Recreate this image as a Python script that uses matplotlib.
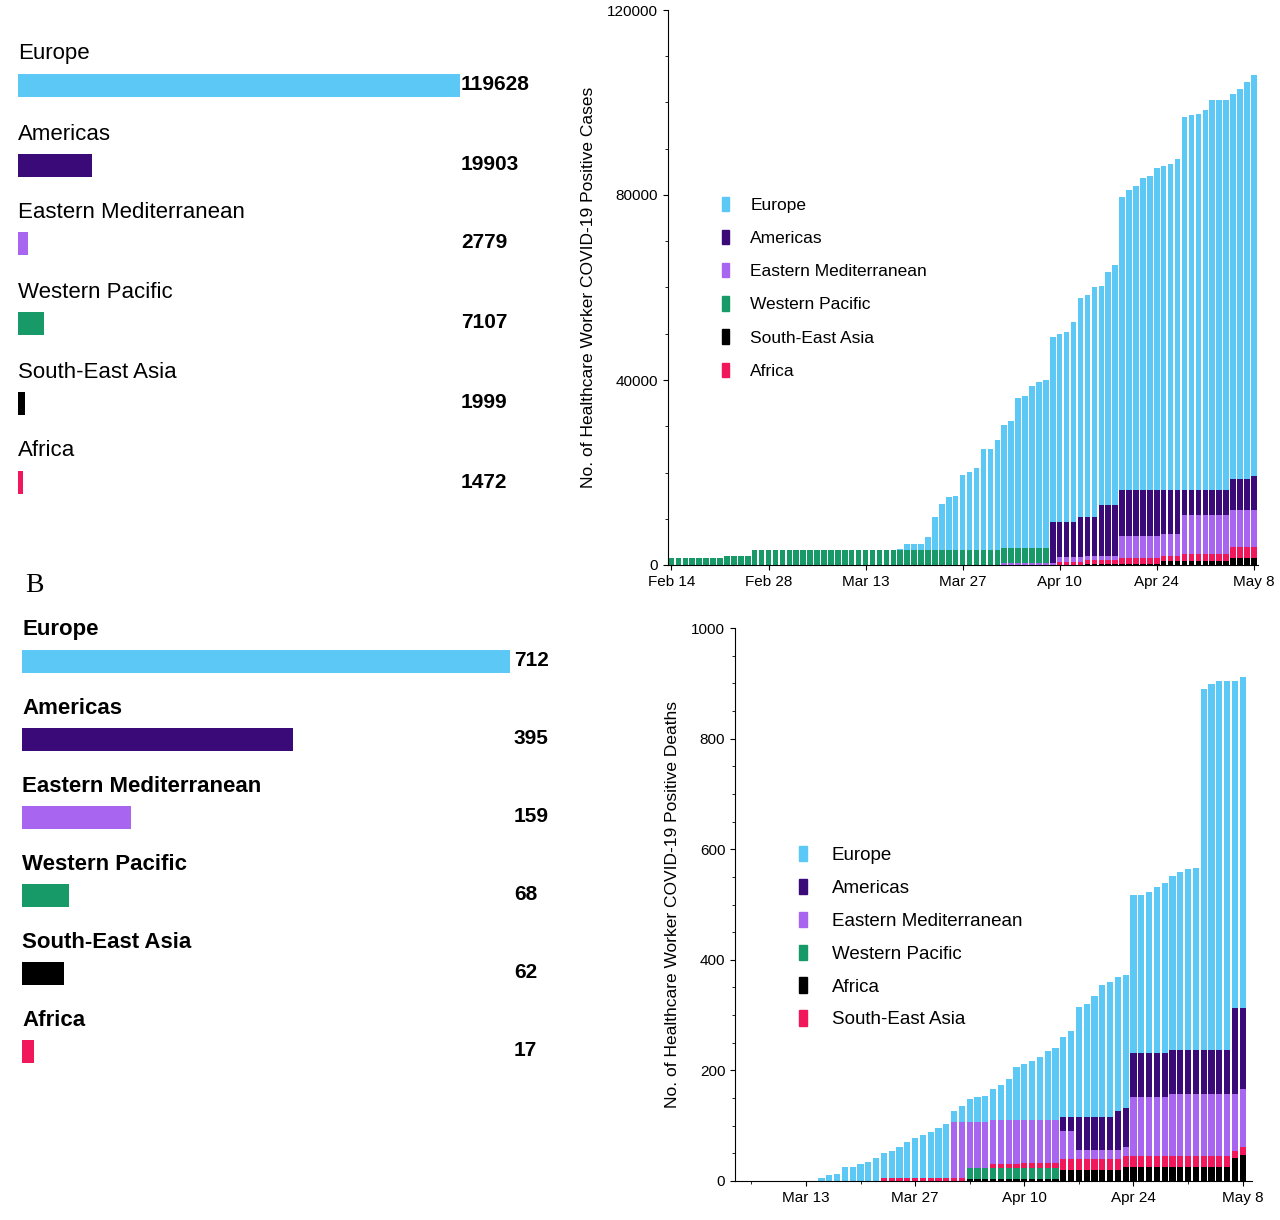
import matplotlib
matplotlib.use("Agg")
import matplotlib.pyplot as plt
import numpy as np
from matplotlib.patches import Patch

plt.rcParams['font.family'] = ['Liberation Sans', 'DejaVu Sans']

# ---------------- data ----------------
regions_a = ["Europe", "Americas", "Eastern Mediterranean", "Western Pacific", "South-East Asia", "Africa"]
cases_a = [119628, 19903, 2779, 7107, 1999, 1472]
regions_b = ["Europe", "Americas", "Eastern Mediterranean", "Western Pacific", "South-East Asia", "Africa"]
deaths_b = [712, 395, 159, 68, 62, 17]

C_EU, C_AM, C_EM, C_WP, C_BK, C_RD = "#5BC8F5", "#3A0B78", "#A866F0", "#179A68", "#000000", "#F0185A"

# top chart, daily cumulative, Feb 14 .. May 8 (85 days)
case_ticks = ["Feb 14", "Feb 28", "Mar 13", "Mar 27", "Apr 10", "Apr 24", "May 8"]
total_cases = ([1500]*8 + [1900]*4 + [3200]*21 + [3500] + [4500]*3 +
               [6000, 10400, 13100, 14600, 14900, 19400, 20100, 20900, 25000, 25000, 27000,
                30200, 31100, 36200, 36600, 38800, 39600, 39900, 49300, 50000, 50400, 52600,
                57800, 58400, 60100, 60400, 63400, 64900, 79500, 81100, 81900, 83600, 84100,
                85800, 86200, 86700, 87700, 96800, 97200, 97500, 98300, 100500, 100500, 100500,
                101900, 103000, 104500, 106000])
wp_cases = [1500]*8 + [1900]*4 + [3200]*21 + [3300]*22 + [0]*30
emr_cases = [0]*48 + [400]*8 + [1000]*9 + [4800]*9 + [8500]*7 + [8000]*4
sea_cases = [0]*60 + [300]*11 + [800]*10 + [1500]*4
afr_cases = [0]*56 + [700]*9 + [1200]*9 + [1500]*7 + [2500]*4
amer_cases = ([0]*55 + [8900] + [7600]*3 + [8700] + [8400]*2 + [10900]*3 + [9900]*6 +
              [9400]*3 + [5500]*7 + [6700]*3 + [7200])

# bottom chart, Mar 13 .. May 8 (57 days)
death_ticks = ["Mar 13", "Mar 27", "Apr 10", "Apr 24", "May 8"]
total_deaths = [0, 0, 6, 10, 13, 26, 26, 30, 35, 42, 50, 55, 61, 71, 77, 84, 88, 96, 103, 127,
                135, 149, 151, 154, 167, 174, 185, 206, 211, 217, 224, 235, 241, 260, 271, 314,
                320, 334, 355, 360, 368, 372, 518, 518, 522, 531, 539, 552, 558, 564, 566, 889,
                899, 904, 904, 905, 912]
afr_deaths = [0]*21 + [3]*12 + [20]*8 + [26]*14 + [42, 47]
wp_deaths = [0]*21 + [20]*12 + [0]*24
sea_deaths = [0]*10 + [5]*11 + [0]*3 + [8]*4 + [10]*5 + [19]*8 + [19]*14 + [13, 14]
emr_deaths = [0]*19 + [101]*2 + [83]*3 + [80]*4 + [78]*5 + [51]*2 + [17]*6 + [17] + [106]*5 + [113]*8 + [103, 106]
amer_deaths = [0]*33 + [26]*2 + [60]*5 + [71] + [70] + [81]*5 + [79]*8 + [154, 145]

W, H = 1280, 1220
fig = plt.figure(figsize=(W/100, H/100), dpi=100)

def ax_px(x0, y0, x1, y1):
    return fig.add_axes([x0/W, 1-y1/H, (x1-x0)/W, (y1-y0)/H])

# ---------------- left panels ----------------
def left_panel(x0, x1, ytop, ybot, y_centers, names, vals, cols, full_px, val_x, fs_lab, fs_val, lab_w):
    ax = ax_px(x0, ytop, x1, ybot)
    ax.set_ylim(ybot, ytop)
    ax.set_xlim(0, vals[0]*(x1-x0)/full_px)
    ax.barh(y_centers, vals, height=23, color=cols, left=0)
    for yc, n, v in zip(y_centers, names, vals):
        ax.text(0, yc-31, n, fontsize=fs_lab, fontweight=lab_w, va='center', ha='left')
        ax.text((val_x-x0)/(x1-x0), yc, str(v), transform=ax.get_yaxis_transform(),
                fontsize=fs_val, fontweight='bold', va='center', ha='left')
    ax.axis('off')

left_panel(18, 560, 20, 510, [85, 165, 243, 323, 403, 482], regions_a, cases_a,
           [C_EU, C_AM, C_EM, C_WP, C_BK, C_RD], 442, 461, 16, 15, 'normal')
left_panel(22, 620, 600, 1080, [661, 739, 817, 895, 973, 1051], regions_b, deaths_b,
           [C_EU, C_AM, C_EM, C_WP, C_BK, C_RD], 488, 514, 16, 15, 'bold')
fig.text(25/W, 1-585/H, "B", fontsize=20, family='Liberation Serif', va='center')

# ---------------- top right ----------------
ax1 = ax_px(668, 10, 1258, 565)
x = np.arange(len(total_cases))
layers1 = [("South-East Asia", sea_cases, C_BK), ("Africa", afr_cases, C_RD),
           ("Eastern Mediterranean", emr_cases, C_EM), ("Western Pacific", wp_cases, C_WP),
           ("Americas", amer_cases, C_AM)]
bottom = np.zeros(len(x))
for n, v, c in layers1:
    ax1.bar(x, v, bottom=bottom, width=0.8, color=c, linewidth=0)
    bottom += np.array(v)
ax1.bar(x, np.array(total_cases) - bottom, bottom=bottom, width=0.8, color=C_EU, linewidth=0)
ax1.set_xlim(-0.5, 84.6)
ax1.set_ylim(0, 120000)
ax1.set_xticks(np.arange(0, 85, 14))
ax1.set_xticklabels(case_ticks, fontsize=11)
ax1.set_yticks([0, 40000, 80000, 120000])
ax1.set_yticks(np.arange(0, 120001, 10000), minor=True)
ax1.tick_params(labelsize=11)
ax1.set_ylabel("No. of Healthcare Worker COVID-19 Positive Cases", fontsize=12.5, labelpad=8)
for s in ['top', 'right']:
    ax1.spines[s].set_visible(False)
h1 = [Patch(color=c) for c in [C_EU, C_AM, C_EM, C_WP, C_BK, C_RD]]
ax1.legend(h1, ["Europe", "Americas", "Eastern Mediterranean", "Western Pacific", "South-East Asia", "Africa"],
           loc='upper left', bbox_to_anchor=((706-668)/590, 1-(181-10)/555), frameon=False,
           handlelength=0.45, handleheight=0.9, handletextpad=1.2, labelspacing=0.98, fontsize=12.5)

# ---------------- bottom right ----------------
ax2 = ax_px(735, 628, 1252, 1181)
x2 = np.arange(len(total_deaths))
layers2 = [("Africa", afr_deaths, C_BK), ("Western Pacific", wp_deaths, C_WP),
           ("South-East Asia", sea_deaths, C_RD), ("Eastern Mediterranean", emr_deaths, C_EM),
           ("Americas", amer_deaths, C_AM)]
bottom = np.zeros(len(x2))
for n, v, c in layers2:
    ax2.bar(x2, v, bottom=bottom, width=0.8, color=c, linewidth=0)
    bottom += np.array(v)
ax2.bar(x2, np.array(total_deaths) - bottom, bottom=bottom, width=0.8, color=C_EU, linewidth=0)
ax2.set_xlim(-9.1, 57.2)
ax2.set_ylim(0, 1000)
ax2.set_xticks(np.arange(0, 57, 14))
ax2.set_xticklabels(death_ticks, fontsize=11)
ax2.set_xticks(np.arange(-7, 57, 7), minor=True)
ax2.set_yticks(np.arange(0, 1001, 200))
ax2.set_yticks(np.arange(0, 1001, 50), minor=True)
ax2.tick_params(labelsize=11)
ax2.set_ylabel("No. of Healthcare Worker COVID-19 Positive Deaths", fontsize=12.5, labelpad=8)
for s in ['top', 'right']:
    ax2.spines[s].set_visible(False)
h2 = [Patch(color=c) for c in [C_EU, C_AM, C_EM, C_WP, C_BK, C_RD]]
ax2.legend(h2, ["Europe", "Americas", "Eastern Mediterranean", "Western Pacific", "Africa", "South-East Asia"],
           loc='upper left', bbox_to_anchor=((782-735)/517, 1-(829-628)/553), frameon=False,
           handlelength=0.45, handleheight=0.9, handletextpad=1.3, labelspacing=0.78, fontsize=13.5)

fig.savefig("out.png", dpi=100)
